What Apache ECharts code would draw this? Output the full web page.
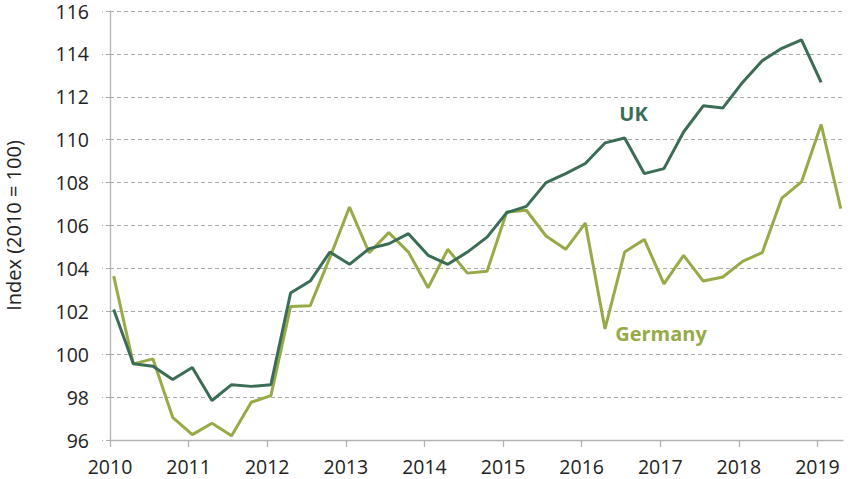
<!DOCTYPE html>
<html>
<head>
<meta charset="utf-8">
<script src="https://cdn.jsdelivr.net/npm/echarts@6/dist/echarts.min.js"></script>
<style>
  html, body { margin: 0; padding: 0; background: #fff; }
  #main { width: 848px; height: 479px; }
</style>
</head>
<body>
<div id="main"></div>
<script>
// quarterly index, 2010 = 100
var years = [2010, 2011, 2012, 2013, 2014, 2015, 2016, 2017, 2018, 2019];
var ukValues = [
  102.08, 99.55, 99.44, 98.82,
  99.38, 97.84, 98.58, 98.50,
  98.58, 102.85, 103.41, 104.76,
  104.19, 104.92, 105.15, 105.62,
  104.61, 104.19, 104.76, 105.46,
  106.60, 106.89, 108.00, 108.42,
  108.89, 109.85, 110.08, 108.42,
  108.65, 110.36, 111.58, 111.48,
  112.67, 113.68, 114.26, 114.65,
  112.67
];
var germanyValues = [
  103.64, 99.55, 99.78, 97.06,
  96.25, 96.78, 96.20, 97.76,
  98.07, 102.22, 102.26, 104.50,
  106.86, 104.73, 105.67, 104.76,
  103.10, 104.89, 103.78, 103.87,
  106.63, 106.71, 105.51, 104.89,
  106.11, 101.18, 104.76, 105.35,
  103.28, 104.61, 103.41, 103.60,
  104.33, 104.73, 107.28, 108.03,
  110.71, 106.79
];
var yTicks = [96, 98, 100, 102, 104, 106, 108, 110, 112, 114, 116];

var ukColor = '#3b6d56';
var deColor = '#97aa48';

// each quarter is plotted a little after its start on the year scale
function toPoints(values) {
  return values.map(function (v, i) {
    return [years[0] + Math.floor(i / 4) + (i % 4) * 0.25 + 0.047, v];
  });
}

var chart = echarts.init(document.getElementById('main'), null, { renderer: 'svg' });
var font = '"Open Sans", "Noto Sans", sans-serif';

var option = {
  animation: false,
  textStyle: { fontFamily: font },
  grid: { left: 110, right: 5, top: 11, bottom: 39, outerBoundsMode: 'none', containLabel: false },
  xAxis: {
    type: 'value',
    min: years[0],
    max: 2019.325,
    interval: 1,
    splitLine: { show: false },
    axisLine: { show: true, lineStyle: { color: '#b3b3b3', width: 1.3 } },
    axisTick: { show: true, length: 7, lineStyle: { color: '#b3b3b3', width: 1.3 } },
    axisLabel: {
      color: '#222', fontSize: 19.5, fontFamily: font, margin: 16,
      showMaxLabel: false,
      formatter: function (v) { return years.indexOf(Math.round(v)) >= 0 ? String(Math.round(v)) : ''; }
    }
  },
  yAxis: {
    type: 'value',
    min: yTicks[0],
    max: yTicks[yTicks.length - 1],
    interval: 2,
    name: 'Index (2010 = 100)',
    nameLocation: 'middle',
    nameGap: 87,
    nameRotate: 90,
    nameTextStyle: { color: '#222', fontSize: 20, fontFamily: font },
    axisLine: { show: true, lineStyle: { color: '#b3b3b3', width: 1.3 } },
    axisTick: { show: true, length: 8, lineStyle: { color: '#aaa', type: [4, 3] } },
    axisLabel: { color: '#222', fontSize: 19.5, fontFamily: font, margin: 21 },
    splitLine: { show: true, lineStyle: { color: '#aaa', width: 1.1, type: [4, 3] } }
  },
  series: [
    {
      name: 'UK',
      type: 'line',
      data: toPoints(ukValues),
      showSymbol: false,
      lineStyle: { color: ukColor, width: 3 },
      itemStyle: { color: ukColor },
      z: 3,
      markPoint: {
        symbolSize: 0,
        data: [{ coord: [2016.66, 111.24] }],
        label: {
          show: true, position: 'inside', formatter: 'UK',
          color: ukColor, fontWeight: 'bold', fontSize: 20, fontFamily: font
        }
      }
    },
    {
      name: 'Germany',
      type: 'line',
      data: toPoints(germanyValues),
      showSymbol: false,
      lineStyle: { color: deColor, width: 3 },
      itemStyle: { color: deColor },
      z: 2,
      markPoint: {
        symbolSize: 0,
        data: [{ coord: [2017.01, 100.96] }],
        label: {
          show: true, position: 'inside', formatter: 'Germany',
          color: deColor, fontWeight: 'bold', fontSize: 20, fontFamily: font
        }
      }
    }
  ]
};
chart.setOption(option);
</script>
</body>
</html>
